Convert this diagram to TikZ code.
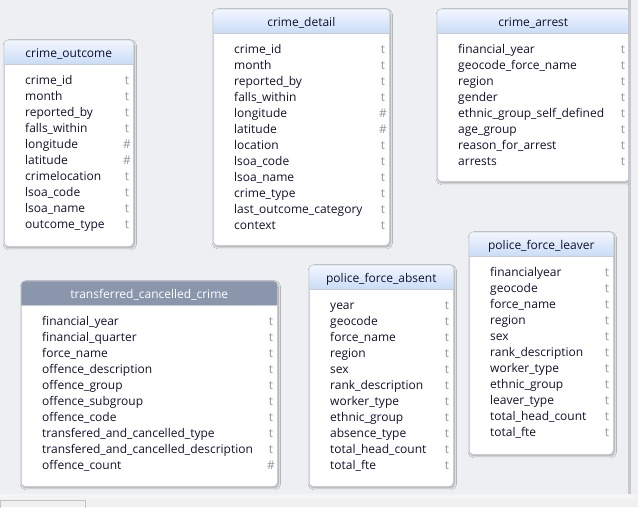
\documentclass[tikz,border=0pt]{standalone}
\usepackage{fontspec}
\setmainfont{Open Sans}
\usetikzlibrary{shadows.blur,calc}
\definecolor{bg}{HTML}{EEEFF3}
\definecolor{boxline}{HTML}{C9CBD2}
\definecolor{hdtop}{HTML}{F3F7FE}
\definecolor{hdbot}{HTML}{C9DCF7}
\definecolor{hdgray}{HTML}{8A96AB}
\definecolor{txtdark}{HTML}{12122E}
\definecolor{typegray}{HTML}{94949C}
\definecolor{barcol}{HTML}{C8C9CF}
\definecolor{stripA}{HTML}{F4F4F6}
\definecolor{stripB}{HTML}{F0F0F0}
\definecolor{tabline}{HTML}{C4C4C4}
\tikzset{
  tbl/.style={draw=boxline, line width=0.6pt, fill=white, rounded corners=4pt, inner sep=0pt, anchor=north west,
    blur shadow={shadow xshift=1pt, shadow yshift=-1.5pt, shadow blur steps=6, shadow opacity=35}},
  rowtxt/.style={anchor=base west, inner sep=0pt, text=txtdark, font=\fontsize{12}{14}\selectfont},
  typetxt/.style={anchor=base, inner sep=0pt, text=typegray, font=\fontsize{12}{14}\selectfont},
  titletxt/.style={anchor=base, inner sep=0pt, text=txtdark, font=\fontsize{12}{14}\selectfont},
  titlewhite/.style={titletxt, text=white},
  hdblue/.style={top color=hdtop, bottom color=hdbot},
  hdgrey/.style={fill=hdgray},
}
% #1 name, #2 x, #3 y, #4 w, #5 h, #6 title, #7 header style, #8 title style, #9 rows
\newcommand{\erbox}[9]{%
  \node[tbl, minimum width=#4pt, minimum height=#5pt] (#1) at (#2,#3) {};
  \begin{scope}
    \clip[rounded corners=4pt] (#1.north west) rectangle (#1.south east);
    \path[#7] (#1.north west) rectangle ($(#1.north east)+(0,24)$);
  \end{scope}
  \draw[boxline, line width=0.6pt] ($(#1.north west)+(0,24)$) -- ($(#1.north east)+(0,24)$);
  \draw[boxline, line width=0.6pt, rounded corners=4pt] (#1.north west) rectangle (#1.south east);
  \node[#8] (#1-title) at ($(#1.north)+(0,17.8)$) {#6};
  \foreach \n/\t [count=\i] in {#9} {
    \pgfmathsetmacro\yy{28+16*\i}
    \node[rowtxt] (#1-r\i) at ($(#1.north west)+(21,\yy)$) {\n};
    \node[typetxt] (#1-t\i) at ($(#1.north east)+(-6.5,\yy)$) {\t};
  }
}
\begin{document}
\begin{tikzpicture}[x=1pt,y=-1pt]
\fill[bg] (0,0) rectangle (638,507);
\useasboundingbox (0,0) rectangle (638,507);

\erbox{co}{4}{40}{129}{206}{crime\_outcome}{hdblue}{titletxt}{crime\_id/t, month/t, reported\_by/t, falls\_within/t, longitude/\#, latitude/\#, crimelocation/t, lsoa\_code/t, lsoa\_name/t, outcome\_type/t}

\erbox{cd}{213}{9}{176}{236}{crime\_detail}{hdblue}{titletxt}{crime\_id/t, month/t, reported\_by/t, falls\_within/t, longitude/\#, latitude/\#, location/t, lsoa\_code/t, lsoa\_name/t, crime\_type/t, last\_outcome\_category/t, context/t}

\erbox{ca}{437}{9}{192}{172}{crime\_arrest}{hdblue}{titletxt}{financial\_year/t, geocode\_force\_name/t, region/t, gender/t, ethnic\_group\_self\_defined/t, age\_group/t, reason\_for\_arrest/t, arrests/t}

\erbox{tc}{21}{281}{256}{205}{transferred\_cancelled\_crime}{hdgrey}{titlewhite}{financial\_year/t, financial\_quarter/t, force\_name/t, offence\_description/t, offence\_group/t, offence\_subgroup/t, offence\_code/t, transfered\_and\_cancelled\_type/t, transfered\_and\_cancelled\_description/t, offence\_count/\#}

\erbox{pa}{309}{265}{144}{221}{police\_force\_absent}{hdblue}{titletxt}{year/t, geocode/t, force\_name/t, region/t, sex/t, rank\_description/t, worker\_type/t, ethnic\_group/t, absence\_type/t, total\_head\_count/t, total\_fte/t}

\erbox{pl}{469}{232}{144}{222}{police\_force\_leaver}{hdblue}{titletxt}{financialyear/t, geocode/t, force\_name/t, region/t, sex/t, rank\_description/t, worker\_type/t, ethnic\_group/t, leaver\_type/t, total\_head\_count/t, total\_fte/t}

% right scroll edge
\fill[bg] (630.5,0) rectangle (638,495);
\fill[barcol] (627.5,0) rectangle (630.5,495);
% bottom strips
\fill[stripA] (0,494) rectangle (638,499);
\fill[stripB] (0,499) rectangle (638,507);
\draw[tabline, line width=0.8pt] (0.4,508) -- (0.4,500.4) -- (85,500.4) -- (85,508);
\end{tikzpicture}
\end{document}
